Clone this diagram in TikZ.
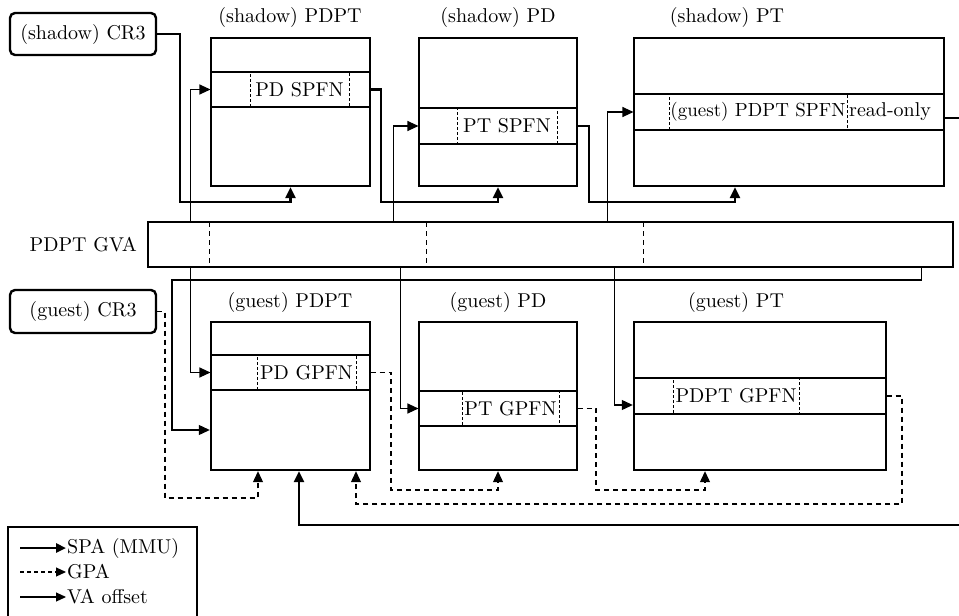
\documentclass[tikz,border=0pt]{standalone}
\usepackage{fontspec}
\setmainfont{lmroman10-regular.otf}
\usetikzlibrary{arrows.meta}
\begin{document}
\begin{tikzpicture}[x=1pt,y=-1pt,
  every node/.style={font=\fontsize{20}{23}\selectfont, inner sep=1pt},
  tbl/.style={draw, line width=2.4pt},
  rowbox/.style={draw, line width=1.1pt},
  entry/.style={draw, line width=0.9pt, dash pattern=on 3pt off 2pt, inner sep=0.5pt},
  regbox/.style={draw, line width=2.4pt, rounded corners=5pt, inner sep=3pt},
  tip/.style={-{Triangle[length=11pt,width=10pt]}},
  spa/.style={line width=2.4pt, tip},
  gpa/.style={line width=1.1pt, dash pattern=on 5pt off 4pt, tip},
  va/.style={line width=1.1pt, tip},
  bardash/.style={line width=1.1pt, dash pattern=on 5pt off 4pt}]
\useasboundingbox (0,0) rectangle (959,616);
\clip (0,0) rectangle (959,616);

% ---------- shadow side ----------
\node[regbox, minimum width=146pt, minimum height=42pt] (sCR3) at (83,34) {(shadow) CR3};

\node (tsPDPT) at (290,17) {(shadow) PDPT};
\node (tsPD) at (498,17) {(shadow) PD};
\node (tsPT) at (727,17) {(shadow) PT};

\node[rowbox, minimum width=159pt, minimum height=35pt] (sPDPTr) at (290.5,89.5) {};
\node[tbl, minimum width=159pt, minimum height=148pt] (sPDPT) at (290.5,112) {};
\node[entry, minimum width=99pt, minimum height=35pt] (sPDe) at (299.5,89.5) {PD SPFN};

\node[rowbox, minimum width=158pt, minimum height=36pt] (sPDr) at (498,126) {};
\node[tbl, minimum width=158pt, minimum height=148pt] (sPD) at (498,112) {};
\node[entry, minimum width=100pt, minimum height=36pt] (sPDe2) at (507,126) {PT SPFN};

\node[rowbox, minimum width=310pt, minimum height=36pt] (sPTr) at (789,112) {};
\node[tbl, minimum width=310pt, minimum height=148pt] (sPT) at (789,112) {};
\node[entry, minimum width=178pt, minimum height=36pt, font=\fontsize{19}{22}\selectfont] (sPTe) at (758,112) {(guest) PDPT SPFN};
\node[anchor=west] (ro) at (848,112) {read-only};

% ---------- GVA bar ----------
\node[tbl, minimum width=805pt, minimum height=45pt] (bar) at (550.5,244.5) {};
\node[anchor=east] (gva) at (138,245) {PDPT GVA};
\draw[bardash] (bar.north west) ++(63,1.2) -- ++(0,44);
\draw[bardash] (bar.north west) ++(280,1.2) -- ++(0,44);
\draw[bardash] (bar.north west) ++(497,1.2) -- ++(0,44);

% ---------- guest side ----------
\node[regbox, minimum width=146pt, minimum height=43pt] (gCR3) at (83,311.5) {(guest) CR3};

\node (tgPDPT) at (290,302) {(guest) PDPT};
\node (tgPD) at (498,302) {(guest) PD};
\node (tgPT) at (736,302) {(guest) PT};

\node[rowbox, minimum width=159pt, minimum height=35pt] (gPDPTr) at (290.5,372.5) {};
\node[tbl, minimum width=159pt, minimum height=148pt] (gPDPT) at (290.5,396) {};
\node[entry, minimum width=99pt, minimum height=35pt] (gPDe) at (306.5,372.5) {PD GPFN};

\node[rowbox, minimum width=158pt, minimum height=35pt] (gPDr) at (498,408.5) {};
\node[tbl, minimum width=158pt, minimum height=148pt] (gPD) at (498,396) {};
\node[entry, minimum width=97pt, minimum height=35pt] (gPDe2) at (510.5,408.5) {PT GPFN};

\node[rowbox, minimum width=252pt, minimum height=36pt] (gPTr) at (760,396) {};
\node[tbl, minimum width=252pt, minimum height=148pt] (gPT) at (760,396) {};
\node[entry, minimum width=126pt, minimum height=36pt] (gPTe) at (736,396) {PDPT GPFN};

% ---------- helper coordinates ----------
\path (sPT.south) ++(-54,0) coordinate (sPTin);
\path (sPT.east) ++(0,6) coordinate (sPTout);
\path (gPDPT.south) ++(8.5,0) coordinate (gPDPTin2);
\path (gPDPT.south) ++(-32.5,0) coordinate (gPDPTin1);
\path (gPDPT.south) ++(65.5,0) coordinate (gPDPTin3);
\path (gPT.south) ++(-55,0) coordinate (gPTin);
\path (gPT.west) ++(0,9) coordinate (gPTvin);
\path (gPDPT.west) ++(0,34) coordinate (gPDPTvin);

% ---------- SPA (MMU) ----------
\draw[spa] (sCR3.east) -| (180,202) -| (sPDPT.south);
\draw[spa] (sPDPTr.east) -| (381,202) -| (sPD.south);
\draw[spa] (sPDr.east) -| (589,202) -| (sPTin);
\draw[spa] (sPTout) -- (964,118) |- (299,525) -- (gPDPTin2);

% ---------- GPA ----------
\draw[gpa] (gCR3.east) -| (165,498) -| (gPDPTin1);
\draw[gpa] (gPDPTr.east) -| (391,490) -| (gPD.south);
\draw[gpa] (gPDr.east) -| (596,490) -| (gPTin);
\draw[gpa] (gPTr.east) -| (902,504) -| (gPDPTin3);

% ---------- VA offset ----------
\draw[va] (bar.north west) ++(44,0) |- (sPDPTr.west);
\draw[va] (bar.north west) ++(247,0) |- (sPDr.west);
\draw[va] (bar.north west) ++(461,0) |- (sPTr.west);
\draw[va] (bar.south west) ++(44,0) |- (gPDPTr.west);
\draw[va] (bar.south west) ++(254,0) |- (gPDr.west);
\draw[va] (bar.south west) ++(468,0) |- (gPTvin);
\draw[va] (bar.south west) ++(775,0) |- (172,280) |- (gPDPTvin);

% ---------- legend ----------
\draw[line width=1.3pt] (8,625) |- (197,527) -- (197,625);
\node[anchor=west] (l1) at (66,548) {SPA (MMU)};
\node[anchor=west] (l2) at (66,572) {GPA};
\node[anchor=west] (l3) at (66,597) {VA offset};
\coordinate (l1a) at (20,548);
\coordinate (l2a) at (20,572);
\coordinate (l3a) at (20,597);
\draw[spa, -{Triangle[length=10pt,width=9pt]}] (l1a) -- (l1.west);
\draw[line width=1.1pt, dash pattern=on 4pt off 3pt, -{Triangle[length=10pt,width=9pt]}] (l2a) -- (l2.west);
\draw[line width=1.1pt, -{Triangle[length=10pt,width=9pt]}] (l3a) -- (l3.west);
\end{tikzpicture}
\end{document}
